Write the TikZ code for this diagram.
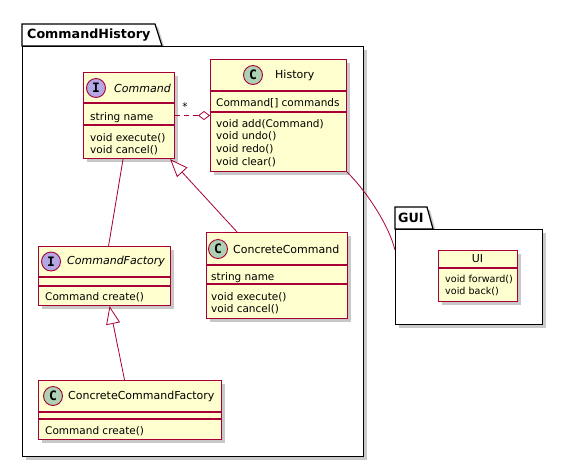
\documentclass[tikz,border=0pt]{standalone}
\usepackage{fontspec}
\setmainfont{DejaVu Sans}
\newfontfamily\iconfont{DejaVu Sans Mono}
\usetikzlibrary{arrows.meta,shadows,positioning}

\definecolor{umlred}{HTML}{A80036}
\definecolor{umlfill}{HTML}{FEFECE}
\definecolor{classicon}{HTML}{ADD1B2}
\definecolor{ifaceicon}{HTML}{B4A7E5}

\tikzset{
  umlshadow/.style={drop shadow={shadow xshift=3pt, shadow yshift=-3pt, opacity=0.3, fill=black!70}},
  classbox/.style={draw=umlred, fill=umlfill, line width=1.1pt, umlshadow, anchor=north west, inner sep=0pt},
  sep/.style={umlred, line width=1.1pt},
  icon/.style={circle, draw=umlred, fill=#1, line width=0.9pt, minimum size=19pt, inner sep=0pt,
    font=\iconfont\bfseries\fontsize{13}{13}\selectfont},
  clsname/.style={anchor=west, inner sep=0pt, font=\fontsize{11}{13}\selectfont},
  ifacename/.style={clsname, font=\itshape\fontsize{11}{13}\selectfont},
  % members are placed by the baseline of their last line
  members/.style={anchor=base west, inner sep=0pt, align=left, font=\fontsize{10.5}{12.7}\selectfont},
  pkg/.style={draw=black, fill=white, line width=1.2pt, umlshadow},
  pkgbody/.style={pkg, anchor=north west, inner sep=0pt},
  pkgname/.style={anchor=west, inner sep=0pt, font=\bfseries\fontsize{12.7}{14}\selectfont},
  assoc/.style={umlred, line width=0.8pt},
  extends/.style={assoc, -{Triangle[open, length=18pt, width=14pt]}},
  aggregate/.style={assoc, dash pattern=on 5pt off 4pt, -{Diamond[open, length=12pt, width=9pt]}},
}

\begin{document}
\begin{tikzpicture}[x=1pt, y=-1pt]
  \useasboundingbox (0,0) rectangle (563,467);

  % packages
  \filldraw[pkg] (22,46) -- (22,24) -- (155,24) -- (162,46) -- cycle;
  \node[pkgbody, minimum width=341pt, minimum height=410pt] (cmdhistory) at (22,46) {};
  \node[pkgname] (cmdhistory-title) at (27,35) {CommandHistory};

  \filldraw[pkg] (395,229) -- (395,207) -- (427,207) -- (433,229) -- cycle;
  \node[pkgbody, minimum width=147pt, minimum height=95pt] (gui) at (395,229) {};
  \node[pkgname] (gui-title) at (398,218) {GUI};

  % Command
  \node[classbox, minimum width=91pt, minimum height=86pt] (command) at (83,72) {};
  \draw[sep] (83,103) -- (174,103) (83,125) -- (174,125);
  \node[icon=ifaceicon] (command-icon) at (96,88) {I};
  \node[ifacename] (command-name) at (114,88) {Command};
  \node[members] (command-attrs) at (90,120) {string name};
  \node[members] (command-ops) at (90,153.7) {void execute()\\void cancel()};

  % History
  \node[classbox, minimum width=136pt, minimum height=112pt] (history) at (210,59) {};
  \draw[sep] (210,91) -- (346,91) (210,112) -- (346,112);
  \node[icon=classicon] (history-icon) at (253,75) {C};
  \node[clsname] (history-name) at (275,75) {History};
  \node[members] (history-attrs) at (216,106) {Command[] commands};
  \node[members] (history-ops) at (216,165.1) {void add(Command)\\void undo()\\void redo()\\void clear()};

  % CommandFactory
  \node[classbox, minimum width=132pt, minimum height=59pt] (cmdfactory) at (38,246) {};
  \draw[sep] (38,277) -- (170,277) (38,286) -- (170,286);
  \node[icon=ifaceicon] (cmdfactory-icon) at (51,261.5) {I};
  \node[ifacename] (cmdfactory-name) at (67,261.5) {CommandFactory};
  \node[members] (cmdfactory-ops) at (45,300) {Command create()};

  % ConcreteCommand
  \node[classbox, minimum width=141pt, minimum height=86pt] (concmd) at (206,232) {};
  \draw[sep] (206,265) -- (347,265) (206,284) -- (347,284);
  \node[icon=classicon] (concmd-icon) at (218,249) {C};
  \node[clsname] (concmd-name) at (233,249) {ConcreteCommand};
  \node[members] (concmd-attrs) at (211,280) {string name};
  \node[members] (concmd-ops) at (211,312.7) {void execute()\\void cancel()};

  % ConcreteCommandFactory
  \node[classbox, minimum width=183pt, minimum height=59pt] (concmdfactory) at (38,380) {};
  \draw[sep] (38,412) -- (221,412) (38,419) -- (221,419);
  \node[icon=classicon] (concmdfactory-icon) at (53,396) {C};
  \node[clsname] (concmdfactory-name) at (68,396) {ConcreteCommandFactory};
  \node[members] (concmdfactory-ops) at (45,434) {Command create()};

  % UI
  \node[classbox, minimum width=79pt, minimum height=51pt] (ui) at (438,250) {};
  \draw[sep] (438,268) -- (517,268);
  \node[clsname, anchor=center] (ui-name) at (477.5,259) {UI};
  \node[members, font=\fontsize{9.6}{12}\selectfont] (ui-ops) at (445,294) {void forward()\\void back()};

  % relations
  \draw[aggregate] (command.east) -- (history.west);
  \node[inner sep=0pt, font=\fontsize{10.5}{12}\selectfont] (star) at (185,107) {*};
  \draw[assoc] ([xshift=-6pt]command.south) -- ([xshift=4pt]cmdfactory.north);
  \draw[extends] ([xshift=-40pt]concmd.north) -- ([xshift=-5pt]command.south east);
  \draw[extends] ([xshift=-5.5pt]concmdfactory.north) -- ([xshift=5pt]cmdfactory.south);
  \draw[assoc] (history.south east) .. controls (368,193) and (389,226) .. (gui.west |- ui.north);
\end{tikzpicture}
\end{document}
